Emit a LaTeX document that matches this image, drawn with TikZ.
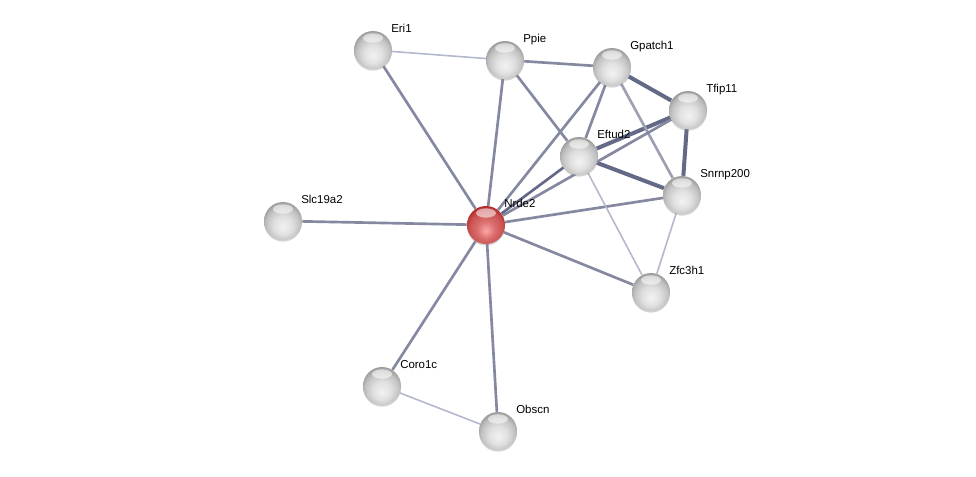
\documentclass[tikz,border=0pt]{standalone}
\usepackage{fontspec}
\setmainfont{Liberation Sans}
\usetikzlibrary{backgrounds,shadows}
\definecolor{strongc}{RGB}{100,105,135}
\definecolor{midc}{RGB}{132,136,160}
\definecolor{weakc}{RGB}{180,184,204}
\pgfdeclareradialshading{greyball}{\pgfpoint{0bp}{-8bp}}{%
  color(0bp)=(black!5); color(12bp)=(black!12);
  color(22bp)=(black!24); color(27bp)=(black!36); color(33bp)=(black!46);
  color(50bp)=(black!46)}
\pgfdeclareradialshading{redball}{\pgfpoint{0bp}{-8bp}}{%
  color(0bp)=(red!35!white); color(12bp)=(red!50!white!85!black);
  color(22bp)=(red!60!white!80!black); color(27bp)=(red!65!black!80!white);
  color(33bp)=(red!60!black); color(50bp)=(red!60!black)}
\begin{document}
\begin{tikzpicture}[x=0.75pt,y=-0.75pt,every node/.style={font=\fontsize{8.6}{10}\selectfont}]
    \tikzset{
      prot/.style={circle,inner sep=0pt,minimum size=28.5pt,shading=greyball,
        drop shadow={shadow xshift=0pt,shadow yshift=-1.2pt,opacity=0.35},
        path picture={\fill[white,opacity=0.55] (path picture bounding box.center)
          ++(0,9pt) ellipse (7.5pt and 3.5pt);}},
      query/.style={prot,shading=redball},
      lbl/.style={anchor=base west,inner sep=0pt},
      strong/.style={line width=3pt,strongc},
      mid/.style={line width=2pt,midc},
      weak/.style={line width=1.2pt,weakc}
    }
    \newcommand{\protein}[5]{%
      \node[#5] (#1) at (#2,#3) {};
      \node[lbl] (#1l) at (#2+18,#3-18) {#4};
    }
    \useasboundingbox (0,0) rectangle (976,476);

    \protein{eri}{373}{50}{Eri1}{prot}
    \protein{ppie}{505}{60}{Ppie}{prot}
    \protein{gpatch}{612}{67}{Gpatch1}{prot}
    \protein{tfip}{688}{110}{Tfip11}{prot}
    \protein{eftud}{579}{156}{Eftud2}{prot}
    \protein{snrnp}{682}{195}{Snrnp200}{prot}
    \protein{slc}{283}{221}{Slc19a2}{prot}
    \protein{nrde}{486}{225}{Nrde2}{query}
    \protein{zfc}{651}{292}{Zfc3h1}{prot}
    \protein{coro}{382}{386}{Coro1c}{prot}
    \protein{obscn}{498}{431}{Obscn}{prot}

    \begin{pgfonlayer}{background}
      \draw[strong] (gpatch) -- (tfip);
      \draw[strong] (tfip) -- (eftud);
      \draw[strong] (tfip) -- (snrnp);
      \draw[strong] (eftud) -- (snrnp);
      \draw[mid] (eri) -- (nrde);
      \draw[mid] (ppie) -- (nrde);
      \draw[mid] (ppie) -- (gpatch);
      \draw[mid] (ppie) -- (eftud);
      \draw[mid] (gpatch) -- (nrde);
      \draw[mid] (gpatch) -- (eftud);
      \draw[mid,midc!80!white] (gpatch) -- (snrnp);
      \draw[mid] (tfip) -- (nrde);
      \draw[mid,strongc] (eftud) -- (nrde);
      \draw[mid] (snrnp) -- (nrde);
      \draw[mid] (slc) -- (nrde);
      \draw[mid] (zfc) -- (nrde);
      \draw[mid] (coro) -- (nrde);
      \draw[mid] (obscn) -- (nrde);
      \draw[weak] (eri) -- (ppie);
      \draw[weak] (eftud) -- (zfc);
      \draw[weak] (snrnp) -- (zfc);
      \draw[weak] (coro) -- (obscn);
    \end{pgfonlayer}
\end{tikzpicture}
\end{document}
